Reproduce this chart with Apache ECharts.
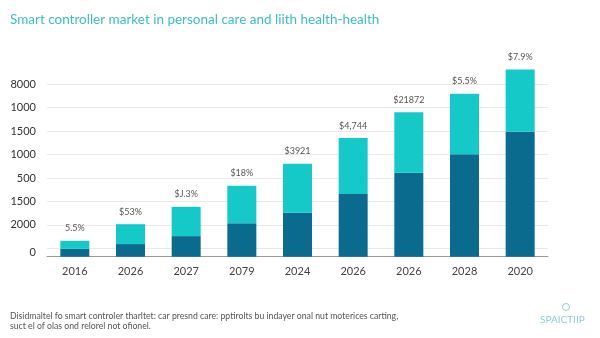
<!DOCTYPE html>
<html>
<head>
<meta charset="utf-8">
<style>
html,body{margin:0;padding:0;background:#fff;}
#chart{width:600px;height:338px;}
</style>
<script src="https://cdn.jsdelivr.net/npm/echarts@6/dist/echarts.min.js"></script>
</head>
<body>
<div id="chart"></div>
<script>
const categories = ['2016','2026','2027','2079','2024','2026','2026','2028','2020'];
const darkValues = [340, 540, 880, 1430, 1880, 2680, 3590, 4380, 5340];
const lightValues = [340, 850, 1250, 1600, 2090, 2390, 2580, 2590, 2660];
const valueLabels = ['5.5%', '$53%', '$J.3%', '$18%', '$3921', '$4,744', '$21872', '$5.5%', '$7.9%'];
const tickLabels = ['0', '2000', '1500', '500', '1000', '1500', '1000', '8000'];

const titleText = 'Smart controller market in personal care and liith health-health';
const footLine1 = 'Disidmaltel fo smart controler tharltet: car presnd care: pptirolts bu indayer onal nut moterices carting,';
const footLine2 = 'suct el of olas ond relorel not ofionel.';
const brandText = 'SPAICTIIP';

const chart = echarts.init(document.getElementById('chart'), null, {renderer: 'canvas'});
const font = 'Lato, "Noto Sans", sans-serif';

chart.setOption({
  animation: false,
  backgroundColor: '#ffffff',
  textStyle: {fontFamily: font},
  title: [
    {text: titleText, left: 10, top: 13, padding: 0, textStyle: {color: '#3cbfc0', fontSize: 13.5, fontWeight: 'normal', fontFamily: font}},
    {text: footLine1 + '\n' + footLine2, left: 10, top: 310.5, padding: 0, textStyle: {color: '#555', fontSize: 8.7, fontWeight: 'normal', lineHeight: 10.5, fontFamily: font}},
    {text: brandText, left: 540, top: 315, padding: 0, textStyle: {color: '#8ccfd3', fontSize: 10, fontWeight: 'normal', fontFamily: font}}
  ],
  graphic: [
    {type: 'circle', shape: {cx: 566, cy: 307, r: 3.5}, style: {fill: 'none', stroke: '#8ccfd3', lineWidth: 1}}
  ],
  grid: [
    {left: 47, right: 52, top: 69.56, bottom: 81.3},
    {left: 47, right: 52, top: 84.3, bottom: 89.7}
  ],
  xAxis: [
    {type: 'category', gridIndex: 0, data: categories,
      axisLine: {lineStyle: {color: '#9a9a9a', width: 1}},
      axisTick: {show: false},
      axisLabel: {color: '#444', fontSize: 11, margin: 9, fontFamily: font}},
    {type: 'category', gridIndex: 1, data: categories, show: false}
  ],
  yAxis: [
    {type: 'value', gridIndex: 0, min: 0, max: 8000, interval: 1000, show: false, splitLine: {show: false}},
    {type: 'value', gridIndex: 1, min: 0, max: 7, interval: 1,
      axisLine: {show: false}, axisTick: {show: false},
      splitLine: {lineStyle: {color: '#e9e9e9', width: 1}},
      axisLabel: {color: '#333', fontSize: 11, margin: 11, fontFamily: font,
        rich: {z: {padding: [8, 0, 0, 0], color: '#333', fontSize: 11, fontFamily: font}},
        formatter: function (v) {
          const i = Math.round(v);
          return i === 0 ? '{z|' + tickLabels[i] + '}' : tickLabels[i];
        }}}
  ],
  series: [
    {type: 'bar', name: 'base', stack: 'total', xAxisIndex: 0, yAxisIndex: 0,
      data: darkValues, barWidth: 29, itemStyle: {color: '#0b6b8e'}},
    {type: 'bar', name: 'top', stack: 'total', xAxisIndex: 0, yAxisIndex: 0,
      data: lightValues, barWidth: 29, itemStyle: {color: '#16c9c9'},
      label: {show: true, position: 'top', distance: 8, color: '#555', fontSize: 9, fontFamily: font,
        formatter: function (p) { return valueLabels[p.dataIndex]; }}}
  ]
});
</script>
</body>
</html>
